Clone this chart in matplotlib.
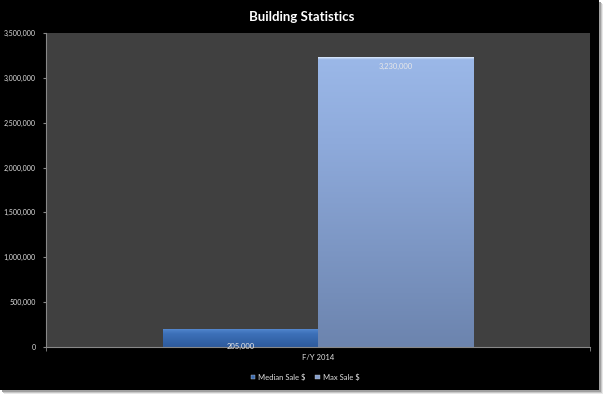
import matplotlib
matplotlib.use("Agg")
import matplotlib.pyplot as plt
import numpy as np
from matplotlib.patches import Rectangle
from matplotlib.colors import LinearSegmentedColormap

categories = ["F/Y 2014"]
series_names = ["Median Sale $", "Max Sale $"]
median_sale = [205000]
max_sale = [3230000]
yticks = [0, 500000, 1000000, 1500000, 2000000, 2500000, 3000000, 3500000]

FONT = "Lato"
W, H = 604, 394
fig = plt.figure(figsize=(W / 100, H / 100), dpi=100, facecolor="white")

# background panel with shadow
bg = fig.add_axes([0, 0, 1, 1], zorder=-10)
bg.set_xlim(0, W); bg.set_ylim(H, 0); bg.axis("off")
for i, c in enumerate(["#e8e8e8", "#c8c8c8", "#a0a0a0"]):
    off = 4 - i
    bg.add_patch(Rectangle((off, off), 599, 390, color=c, lw=0))
bg.add_patch(Rectangle((0, 0), 599, 390, color="black", lw=0))

ax = fig.add_axes([46 / W, (H - 347) / H, 544 / W, 314 / H])
ax.set_facecolor("#404040")
ax.set_xlim(-0.5, 0.5)
ax.set_ylim(0, 3500000)

x = np.arange(len(categories))
bw = 0.285
cm_med = LinearSegmentedColormap.from_list(
    "m", [(0, "#a9c8f0"), (0.06, "#4f84cc"), (0.3, "#3c70b8"), (1, "#2e5a9c")])
cm_max = LinearSegmentedColormap.from_list(
    "x", [(0, "#d4e4fa"), (0.006, "#9bb8e8"), (0.3, "#8eaadb"), (1, "#6c84ae")])

def grad_bar(xc, val, cmap, label):
    bars = ax.bar(xc, val, width=bw, color=cmap(0.5), edgecolor="none", label=label, zorder=2)
    for b in bars:
        x0, w, h = b.get_x(), b.get_width(), b.get_height()
        g = np.linspace(0, 1, 512).reshape(-1, 1)
        im = ax.imshow(g, extent=[x0, x0 + w, 0, h], origin="upper", cmap=cmap,
                       aspect="auto", zorder=2.1, interpolation="bilinear")
        im.set_clip_path(b)
    return bars

b1 = grad_bar(x - bw / 2, median_sale, cm_med, series_names[0])
b2 = grad_bar(x + bw / 2, max_sale, cm_max, series_names[1])
ax.set_xlim(-0.5, 0.5)
ax.set_ylim(0, 3500000)

for b, v, off in [(b1[0], median_sale[0], -13), (b2[0], max_sale[0], -7)]:
    ax.annotate(f"{v:,}", (b.get_x() + b.get_width() / 2, v), xytext=(0, off),
                textcoords="offset points", ha="center", va="center",
                color="#e8e8e8", fontsize=5.5, family=FONT, zorder=5,
                annotation_clip=False)

ax.set_yticks(yticks)
ax.set_yticklabels([f"{v:,}" for v in yticks], color="#e0e0e0", fontsize=5, family=FONT)
ax.set_xticks(x)
ax.set_xticklabels(categories, color="#e0e0e0", fontsize=5.5, family=FONT)
ax.tick_params(axis="x", length=0, pad=5)
ax.tick_params(axis="y", length=2.2, color="#888888", pad=5)
ax.set_xticks([-0.5, 0.5], minor=True)
ax.tick_params(axis="x", which="minor", length=3, color="#888888")
for s in ["top", "right"]:
    ax.spines[s].set_visible(False)
for s in ["left", "bottom"]:
    ax.spines[s].set_color("#888888")
    ax.spines[s].set_linewidth(0.8)

fig.text(0.5, 1 - 17 / H, "Building Statistics", ha="center", va="center",
         color="white", fontsize=9.5, fontweight="bold", family=FONT)

leg = fig.legend(handles=[b1, b2], labels=series_names, loc="center",
                 bbox_to_anchor=(305 / W, 1 - 377 / H), ncol=2, frameon=False,
                 handlelength=0.6, handleheight=0.6, handletextpad=0.4,
                 columnspacing=1.2, prop={"family": FONT, "size": 5.5})
for t in leg.get_texts():
    t.set_color("#e0e0e0")
for h, c in zip(leg.legend_handles, [cm_med(0.5), cm_max(0.5)]):
    h.set_facecolor(c)
    h.set_edgecolor("#c0c0c0")
    h.set_linewidth(0.3)

fig.savefig("out.png", dpi=100, facecolor="white")
